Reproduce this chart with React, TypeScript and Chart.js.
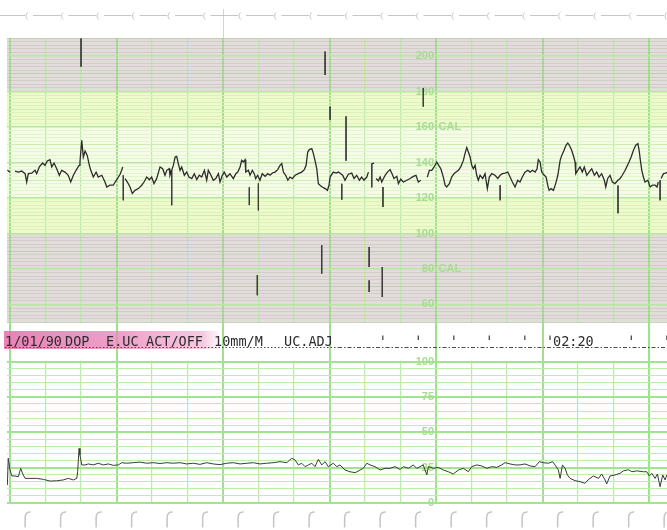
import React, { useEffect, useRef } from 'react';
import { Chart, registerables } from 'chart.js';

Chart.register(...registerables);

// Fetal heart rate, [seconds, bpm]; a null value is a pen lift.
const fhrTrace: [number, number | null][] = [
  [-1.5, 135.6], [0, 134.6], [1.4, null],
  [2.8, 135.2], [4.7, 134.6], [6.6, 135.2], [8.5, 133.7], [9.4, 129], [10.3, 133.7], [12.2, 134], [14.1, 135.6],
  [15.0, 133.7], [16.5, 137.5], [18.4, 139.7], [19.7, 138.4], [21.0, 140.9], [22.5, 141.6], [23.5, 137.5],
  [24.8, 139.7], [26.3, 136.5], [27.8, 132.8], [29.1, 135.6], [31.0, 134.6], [32.8, 132.8], [34.2, 129],
  [35.7, 132.8], [37.2, 135.6], [38.9, 138.4], [39.4, 140.3], [40.4, 152.5], [41.3, 143.1], [42.3, 146.5],
  [43.5, 144], [44.7, 138.4], [45.5, 135.6], [46.9, 131.8], [48.5, 134.6], [49.7, 131.8], [51.7, 132.8],
  [53.5, 129], [54.5, 126.2], [56.3, 127.2], [58.2, 127.2], [59.2, 129], [60.5, 130.9], [62.0, 133.4],
  [62.9, 135.6], [63.5, 137.5], [64.1, null],
  [64.8, 130.9], [66.1, 129], [67.6, 126.2], [68.9, 122.5], [70.4, 124.3], [72.3, 125.3], [74.2, 127.2],
  [75.5, 129], [77.0, 131.8], [78.5, 130.3], [79.8, 131.8], [81.1, 128.1], [82.6, 130.9], [84.5, 137.5],
  [86.0, 136.5], [87.3, 132.8], [88.3, 135.6], [89.7, 136.5], [90.1, 132.8], [92.0, 138.4], [93.0, 143.1],
  [93.9, 143.5], [94.8, 139.4], [95.8, 135.6], [96.7, 137.5], [98.2, 132.8], [99.5, 134.6], [100.8, 131.8],
  [102.4, 130.9], [103.8, 133.7], [105.2, 130.4], [106.6, 132.8], [108.0, 131.8], [109.5, 135.6], [110.8, 130],
  [111.7, 135.6], [113.2, 132.8], [114.5, 130], [115.9, 130.9], [117.4, 133.7], [118.3, 129], [119.6, 132.8],
  [120.7, 134.6], [122.1, 131.8], [123.9, 133.7], [125.8, 130.9], [127.2, 133.7], [128.3, 134.6], [129.6, 137.5],
  [130.5, 141.2], [131.4, 140.3], [132.4, 141.6], [132.8, 134.6], [134.3, 135.6], [135.2, 132.8], [136.5, 135.6],
  [137.6, 133.7], [138.4, 130.9], [139.5, 132.8], [140.8, 130], [142.1, 133.7], [143.7, 132.2], [145.2, 133.7],
  [146.5, 132.8], [147.8, 134.1], [149.3, 134.6], [150.8, 136], [152.1, 138.4], [153.1, 139.4], [154.0, 134.6],
  [155.3, 132.8], [156.5, 130], [157.7, 131.8], [159.0, 130.9], [160.6, 132.8], [162.4, 133.7], [164.3, 134.6],
  [165.8, 136], [166.8, 138.4], [167.7, 145.9], [168.6, 147.3], [170.0, 147.8], [170.9, 145], [171.8, 141.2],
  [172.8, 136.5], [173.7, 128.1], [174.6, 127.2], [175.9, 126.2], [177.5, 125.3], [178.8, 124.3], [179.7, 127.2],
  [180.3, 131.8], [182.1, 134.6], [183.7, 134], [185.0, 134.6], [186.3, 133.7], [187.4, 132.8], [188.7, 130],
  [190.6, 133.4], [192.5, 134], [193.8, 131], [195.3, 132.8], [196.8, 130], [198.1, 131.8], [199.4, 130],
  [201.0, 131.8], [201.9, 134.6], [202.9, null],
  [203.9, 139.4], [205.1, 139.6], [205.6, null],
  [206.2, 131], [207.5, 129.7], [208.5, 131.8], [209.4, 129], [211.3, 132.8], [212.6, 134.6], [214.1, 136],
  [215.2, 133.7], [216.3, 131], [217.9, 132.2], [218.8, 128.1], [220.1, 130.6], [221.6, 129], [223.5, 130],
  [225.4, 131], [227.2, 132.2], [228.7, 132.8], [230.0, 129], [231.4, 130], [233.0, null],
  [235.1, 131.8], [236.2, 135.6], [237.6, 135.6], [238.9, 137.5], [240.4, 140.3], [241.5, 138.4], [242.7, 136.5],
  [244.1, 131.8], [245.1, 127.2], [246.0, 126.2], [247.5, 128.1], [248.8, 131.8], [250.1, 133.7], [251.3, 134.6],
  [252.6, 135.6], [253.9, 137.5], [255.4, 141.2], [256.3, 145], [257.3, 148.4], [258.2, 145.9], [259.2, 143.1],
  [260.1, 138.4], [261.0, 136.5], [262.0, 138.4], [262.9, 132.8], [263.8, 130], [264.8, 132.8], [266.3, 131],
  [267.6, 133.7], [268.9, 125.3], [270.0, 131.8], [271.4, 133.7], [273.2, 132.8], [274.8, 131], [276.1, 132.8],
  [277.4, 133.7], [278.9, 134], [280.4, 134.6], [281.7, 131.8], [283.0, 129], [284.5, 126.2], [286.0, 130],
  [287.3, 129], [288.6, 131.8], [290.1, 134.6], [291.7, 135.6], [293.0, 134.6], [294.3, 135.6], [295.8, 134.6],
  [296.9, 136.5], [297.6, 141.6], [298.6, 140.3], [299.5, 134.6], [301.0, 132.8], [302.0, 131.8], [302.9, 127.2],
  [303.7, 124.3], [304.8, 125.3], [306.1, 124.3], [307.4, 128.1], [308.6, 132.8], [309.9, 141.2], [310.8, 144],
  [312.1, 146.9], [313.2, 149.7], [314.2, 151], [315.1, 149.7], [316.4, 146.9], [317.6, 143.1], [318.3, 140.3],
  [318.7, 133.7], [319.8, 135.6], [321.1, 137.5], [322.4, 134.6], [323.5, 137.5], [324.9, 132.8], [326.2, 134.6],
  [327.7, 136.5], [329.2, 132.8], [330.5, 134.6], [331.8, 131.8], [333.3, 133.7], [334.8, 130], [335.6, 126.2],
  [336.7, 131], [338.0, 132.8], [339.3, 129], [340.8, 128.1], [342.4, 130], [343.7, 131], [344.9, 132.8],
  [346.5, 135.6], [347.4, 137.5], [348.7, 140.3], [349.9, 143.1], [351.2, 146.9], [352.5, 149.7], [353.7, 150.6],
  [354.4, 146.9], [355.1, 141.2], [355.9, 135.6], [356.8, 131.8], [357.7, 129], [359.3, 130], [360.6, 126.2],
  [361.9, 127.2], [363.4, 127.2], [364.5, 126.2], [365.2, 129], [366.0, null],
  [366.8, 131], [368.1, 133.7], [369.4, 134], [370.1, 134.5],
];

// Short vertical pen strokes on the heart-rate channel: [seconds, from bpm, to bpm].
const fhrStrokes: [number, number, number][] = [
  [40.0, 210, 194], [63.8, 132.8, 118.7], [91.1, 135.6, 115.9], [134.8, 126, 116], [139.3, 76.5, 65.2],
  [139.9, 128.3, 113], [175.6, 93.4, 77.4], [177.5, 202.5, 189.3], [180.3, 171.5, 164], [186.9, 128, 119],
  [189.3, 166, 141], [202.3, 92.4, 81.1], [202.3, 73.6, 67], [203.8, 139.4, 126], [209.7, 81.1, 64.2],
  [210.1, 126.2, 114.9], [232.8, 182, 171.5], [276.1, 127.2, 118.7], [342.5, 127, 111.4], [366.2, 130, 118.7],
];

// Uterine activity, [seconds, units].
const ucTrace: [number, number][] = [
  [-1.5, 12.7], [-1.0, 31.6], [0, 23.3], [1.0, 19.1], [2.8, 19.1], [4.7, 18.6], [6.0, 24.5], [7.2, 20.5],
  [8.5, 17.4], [11.3, 17.4], [15.0, 17.4], [18.8, 16.7], [22.5, 15.5], [26.3, 15.7], [30.0, 16.3], [32.8, 17.4],
  [35.7, 16.3], [37.6, 17.4], [38.1, 22.1], [38.9, 38.6], [39.4, 33.9], [40.4, 26.9], [42.3, 26.9], [44.1, 27.6],
  [46.9, 26.9], [49.7, 28.1], [52.6, 26.9], [55.4, 27.6], [58.2, 26.6], [61.0, 26.9], [62.9, 28.5], [65.7, 28.1],
  [69.5, 28.5], [73.2, 28.9], [77.0, 28.1], [80.7, 28.5], [84.5, 27.9], [88.3, 28.5], [92.0, 28.1], [95.8, 28.5],
  [99.5, 27.6], [103.3, 28.1], [107.0, 27.3], [110.8, 28.5], [114.5, 27.6], [118.3, 27.1], [122.1, 28.1],
  [125.8, 28.5], [129.6, 27.6], [133.4, 28.1], [137.1, 28.5], [140.8, 27.6], [144.6, 28.1], [148.3, 28.5],
  [152.1, 29.2], [155.9, 28.5], [158.7, 31.6], [160.6, 30.4], [162.4, 26.9], [164.3, 28.1], [166.2, 25.7],
  [168.1, 26.9], [170.0, 28.1], [171.8, 25.7], [173.7, 30.9], [175.6, 26.9], [177.5, 29.2], [179.3, 25.7],
  [182.1, 28.1], [184.1, 25.7], [185.9, 26.9], [188.7, 23.3], [191.5, 22.1], [194.4, 21.4], [197.2, 23.3],
  [199.0, 24.5], [201.0, 28.1], [202.8, 26.9], [205.6, 25.7], [208.5, 23.3], [211.3, 24.5], [214.1, 24.5],
  [216.9, 25.7], [219.7, 23.7], [221.6, 25.7], [224.4, 24.5], [227.2, 26.9], [229.1, 24.5], [231.0, 25.7],
  [232.8, 26.9], [234.8, 19.8], [235.7, 25.7], [238.5, 24.5], [241.3, 25.2], [244.1, 23.3], [246.9, 22.1],
  [249.7, 20.5], [252.6, 23.3], [255.4, 24.5], [258.2, 22.1], [260.1, 25.7], [262.9, 26.9], [265.7, 26.2],
  [268.6, 24.5], [271.4, 25.7], [274.2, 25.2], [277.0, 26.9], [278.9, 28.5], [281.7, 27.6], [284.5, 26.9],
  [287.3, 26.9], [290.1, 27.6], [293.0, 26.2], [295.8, 25.7], [298.2, 29.2], [300.5, 28.5], [303.3, 28.1],
  [305.7, 29.2], [307.0, 26.9], [308.9, 23.3], [309.9, 17.4], [311.2, 26.9], [312.7, 24.5], [314.0, 19.8],
  [315.5, 17.4], [318.3, 15.8], [321.1, 15.1], [323.9, 13.9], [325.8, 16.5], [328.6, 19.1], [331.5, 17.4],
  [333.3, 20.5], [335.2, 16.3], [336.1, 13.4], [338.0, 19.1], [340.8, 19.8], [343.7, 21], [345.5, 22.7],
  [348.4, 23.5], [350.3, 22.1], [353.1, 22.7], [356.8, 22.1], [358.7, 22.1], [360.2, 19.1], [361.5, 21],
  [363.4, 17.4], [364.7, 20.5], [366.2, 11.5], [367.7, 19.8], [369.0, 16.3], [370.0, 19.8],
];

// Printed scale labels.
const fhrLabelValues = [200, 180, 160, 140, 120, 100, 80, 60];
const fhrCalValues = [160, 80];
const ucLabelValues = [100, 75, 50, 25, 0];

// Status line printed between the channels.
const statusWords = ['1/01/90', 'DOP', 'E.UC', 'ACT/OFF', '10mm/M', 'UC.ADJ'];
const timeMarkSeconds = [210, 230, 250, 270, 290, 350, 370];
const clockMarkSecond = 304.2;
const clockText = '02:20';

// Paper ranges.
const FHR_LO = 50;
const FHR_HI = 210;
const UC_LO = 0;
const UC_HI = 100;
const T_MIN = -1.7;
const T_MAX = 370.1;

// Page geometry.
const W = 667;
const H = 530;
const PANEL_LEFT = 7;
const FHR_TOP = 38.3;
const FHR_BOTTOM = 322.2;
const UC_TOP = 361.5;
const UC_BOTTOM = 503;

const fhrAxisMin = FHR_LO - ((UC_BOTTOM - FHR_BOTTOM) * (FHR_HI - FHR_LO)) / (FHR_BOTTOM - FHR_TOP);
const ucAxisMax = UC_HI + ((UC_TOP - FHR_TOP) * (UC_HI - UC_LO)) / (UC_BOTTOM - UC_TOP);

const range = (a: number, b: number, step: number) => {
  const out: number[] = [];
  for (let v = a; v <= b + 1e-9; v += step) out.push(Math.round(v * 100) / 100);
  return out;
};

const GREY = '#e2dcda';
const YELLOW = '#eef9cc';
const PALE = '#f5fce5';
const fhrBands: [number, number, string][] = [
  [210, 180, GREY],
  [180, 160, YELLOW],
  [160, 120, PALE],
  [120, 100, YELLOW],
  [100, 50, GREY],
];

const V_THICK = 'rgb(158,226,138)';
const V_THIN = 'rgb(186,236,168)';
const LABEL_GREEN = '#a8dc94';

const paperPlugin = {
  id: 'ctgPaper',
  beforeDraw(chart: any) {
    const { ctx, chartArea } = chart;
    const x = chart.scales.x;
    const yF = chart.scales.yFHR;
    ctx.save();
    ctx.fillStyle = '#ffffff';
    ctx.fillRect(0, 0, W, H);

    for (const [hi, lo, color] of fhrBands) {
      const y1 = yF.getPixelForValue(hi);
      const y2 = yF.getPixelForValue(lo);
      ctx.fillStyle = color;
      ctx.fillRect(chartArea.left, y1, chartArea.right - chartArea.left, y2 - y1);
    }

    // perforation guide along the top edge
    ctx.strokeStyle = '#c6c6c6';
    ctx.lineWidth = 1;
    const holes: number[] = [];
    for (let t = -11; t <= 390; t += 20) holes.push(x.getPixelForValue(t));
    for (let i = 0; i < holes.length; i++) {
      const px = holes[i];
      ctx.beginPath();
      ctx.arc(px + 4.5, 16, 4.5, Math.PI * 0.7, Math.PI * 1.3);
      ctx.stroke();
      if (i + 1 < holes.length) {
        ctx.beginPath();
        ctx.moveTo(px + 7, 15.5);
        ctx.lineTo(holes[i + 1] - 1, 15.5);
        ctx.stroke();
      }
    }
    ctx.strokeStyle = 'rgba(170,170,170,0.5)';
    ctx.beginPath();
    ctx.moveTo(Math.round(x.getPixelForValue(120)) + 0.5, 9);
    ctx.lineTo(Math.round(x.getPixelForValue(120)) + 0.5, FHR_TOP);
    ctx.stroke();

    // sprocket holes along the bottom edge
    ctx.strokeStyle = '#c4c4c4';
    ctx.lineWidth = 1.5;
    for (let t = 8.5; t <= 380; t += 20) {
      const px = x.getPixelForValue(t);
      ctx.beginPath();
      ctx.moveTo(px + 5.5, 512);
      ctx.quadraticCurveTo(px, 511.5, px, 518);
      ctx.lineTo(px, 527.5);
      ctx.stroke();
    }
    ctx.restore();
  },
  beforeDatasetsDraw(chart: any) {
    const { ctx } = chart;
    const x = chart.scales.x;
    const yF = chart.scales.yFHR;
    const yU = chart.scales.yUC;
    const bandTop = yF.getPixelForValue(FHR_LO);
    const bandBottom = yU.getPixelForValue(UC_HI);
    ctx.save();

    // blank strip between the two channels, crossed only by the minute lines
    ctx.fillStyle = '#ffffff';
    ctx.fillRect(0, bandTop + 0.8, W, bandBottom - bandTop - 1.6);
    ctx.strokeStyle = V_THICK;
    ctx.lineWidth = 2;
    for (let t = 0; t <= 360; t += 60) {
      const px = Math.round(x.getPixelForValue(t));
      ctx.beginPath();
      ctx.moveTo(px, bandTop);
      ctx.lineTo(px, bandBottom);
      ctx.stroke();
    }

    // pink marker behind the start of the status line
    const g = ctx.createLinearGradient(4, 0, 218, 0);
    g.addColorStop(0, 'rgba(228,108,170,0.85)');
    g.addColorStop(0.55, 'rgba(233,134,186,0.78)');
    g.addColorStop(0.93, 'rgba(239,168,206,0.62)');
    g.addColorStop(1, 'rgba(244,198,222,0.25)');
    ctx.fillStyle = g;
    ctx.fillRect(4, 331, 214, 18);

    // status line
    ctx.fillStyle = '#2e2e2e';
    ctx.font = '13.5px "DejaVu Sans Mono"';
    ctx.textBaseline = 'alphabetic';
    ctx.textAlign = 'left';
    const wordX = [5, 65, 106, 146, 214, 284];
    statusWords.forEach((w, i) => ctx.fillText(w, wordX[i], 345.5));

    // dotted feed line with time ticks
    ctx.strokeStyle = '#4a4a4a';
    ctx.lineWidth = 1;
    ctx.setLineDash([1.5, 2]);
    ctx.beginPath();
    ctx.moveTo(5, 347.5);
    ctx.lineTo(338, 347.5);
    ctx.stroke();
    ctx.setLineDash([4, 2, 1.5, 2]);
    ctx.beginPath();
    ctx.moveTo(338, 347.5);
    ctx.lineTo(W, 347.5);
    ctx.stroke();
    ctx.setLineDash([]);
    ctx.lineWidth = 1.3;
    for (const t of [...timeMarkSeconds, clockMarkSecond]) {
      const px = x.getPixelForValue(t);
      ctx.beginPath();
      ctx.moveTo(px, 335.5);
      ctx.lineTo(px, 340);
      ctx.stroke();
    }
    ctx.fillText(clockText, x.getPixelForValue(clockMarkSecond) + 3, 345.5);

    // printed scale values
    const lx = x.getPixelForValue(240);
    ctx.fillStyle = LABEL_GREEN;
    ctx.font = 'bold 11px "Liberation Sans"';
    ctx.textBaseline = 'middle';
    for (const v of fhrLabelValues) {
      const py = yF.getPixelForValue(v);
      ctx.textAlign = 'right';
      ctx.fillText(String(v), lx - 2, py);
      if (fhrCalValues.includes(v)) {
        ctx.textAlign = 'left';
        ctx.fillText('CAL', lx + 2.5, py);
      }
    }
    ctx.textAlign = 'right';
    for (const v of ucLabelValues) {
      ctx.fillText(String(v), lx - 2, yU.getPixelForValue(v));
    }
    ctx.restore();
  },
};

export default function App() {
  const canvasRef = useRef<HTMLCanvasElement | null>(null);

  useEffect(() => {
    const canvas = canvasRef.current;
    if (!canvas) return;

    const fhrData = fhrTrace.map(([t, v]) => ({ x: t, y: v }));
    const strokeData = fhrStrokes.flatMap(([t, a, b]) => [
      { x: t, y: a },
      { x: t, y: b },
      { x: t, y: null },
    ]);
    const ucData = ucTrace.map(([t, v]) => ({ x: t, y: v }));

    const xTicks = range(0, 360, 20);
    const fhrTicks = range(FHR_LO, FHR_HI, 2);
    const ucTicks = range(UC_LO, UC_HI, 5);

    const chart = new Chart(canvas, {
      type: 'line',
      data: {
        datasets: [
          {
            label: 'FHR',
            data: fhrData as any,
            yAxisID: 'yFHR',
            borderColor: '#2c2c2c',
            borderWidth: 1.3,
            pointRadius: 0,
            tension: 0,
            spanGaps: false,
          },
          {
            label: 'FHR strokes',
            data: strokeData as any,
            yAxisID: 'yFHR',
            borderColor: '#3c3c3c',
            borderWidth: 1,
            pointRadius: 0,
            tension: 0,
            spanGaps: false,
          },
          {
            label: 'UC',
            data: ucData as any,
            yAxisID: 'yUC',
            borderColor: '#3a3a3a',
            borderWidth: 1,
            pointRadius: 0,
            tension: 0,
          },
        ],
      },
      options: {
        animation: false,
        responsive: false,
        events: [],
        layout: {
          padding: { left: PANEL_LEFT, top: FHR_TOP, right: 0, bottom: H - UC_BOTTOM },
        },
        plugins: {
          legend: { display: false },
          tooltip: { enabled: false },
        },
        scales: {
          x: {
            type: 'linear',
            min: T_MIN,
            max: T_MAX,
            afterBuildTicks: (s: any) => {
              s.ticks = xTicks.map((v) => ({ value: v }));
            },
            ticks: { display: false },
            border: { display: false },
            grid: {
              drawTicks: false,
              color: (c: any) => (c.tick && c.tick.value % 60 === 0 ? V_THICK : V_THIN),
              lineWidth: (c: any) => (c.tick && c.tick.value % 60 === 0 ? 2 : 1.2),
            },
          },
          yFHR: {
            type: 'linear',
            position: 'left',
            min: fhrAxisMin,
            max: FHR_HI,
            afterBuildTicks: (s: any) => {
              s.ticks = fhrTicks.map((v) => ({ value: v }));
            },
            ticks: { display: false },
            border: { display: false },
            grid: {
              drawTicks: false,
              color: (c: any) => {
                const v = c.tick ? c.tick.value : 0;
                if (v % 20 === 0) return 'rgb(184,229,160)';
                const grey = v > 180 || v < 100;
                if (v % 10 === 0) return grey ? 'rgba(175,200,165,0.7)' : 'rgb(204,237,180)';
                if (grey) return 'rgba(175,165,163,0.28)';
                return v > 160 || v < 120 ? 'rgb(218,241,184)' : 'rgb(228,244,206)';
              },
              lineWidth: (c: any) => (c.tick && c.tick.value % 20 === 0 ? 1.4 : 1),
            },
          },
          yUC: {
            type: 'linear',
            position: 'left',
            min: UC_LO,
            max: ucAxisMax,
            afterBuildTicks: (s: any) => {
              s.ticks = ucTicks.map((v) => ({ value: v }));
            },
            ticks: { display: false },
            border: { display: false },
            grid: {
              drawTicks: false,
              color: (c: any) => (c.tick && c.tick.value % 25 === 0 ? 'rgb(160,229,140)' : 'rgb(190,238,174)'),
              lineWidth: (c: any) => (c.tick && c.tick.value % 25 === 0 ? 2 : 1),
            },
          },
        },
      },
      plugins: [paperPlugin],
    });

    return () => chart.destroy();
  }, []);

  return (
    <div style={{ position: 'absolute', left: 0, top: 0, width: W, height: H, background: '#fff' }}>
      <canvas ref={canvasRef} width={W} height={H} style={{ display: 'block', width: W, height: H }} />
    </div>
  );
}
